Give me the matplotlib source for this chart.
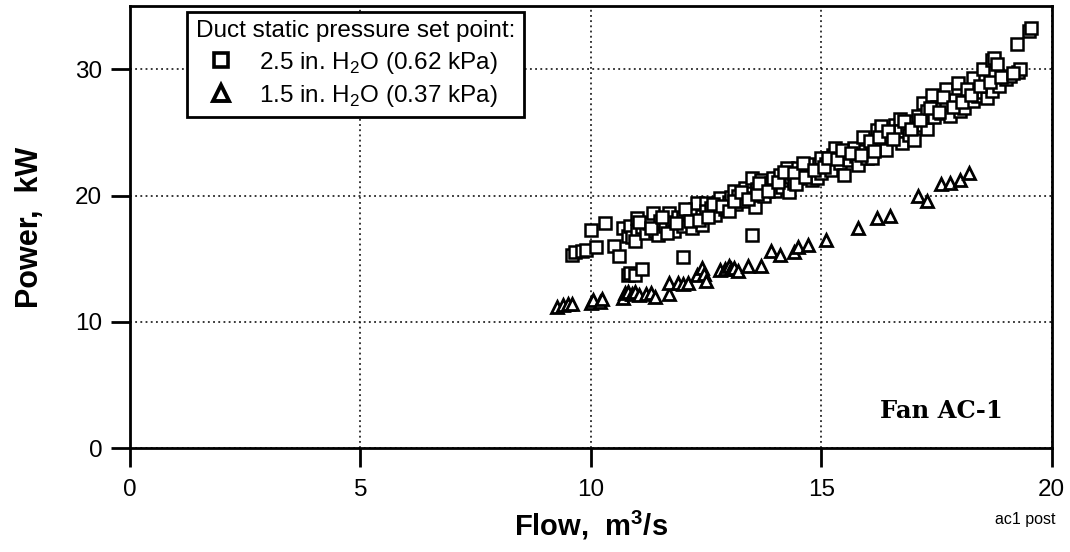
import matplotlib
matplotlib.use("Agg")
import matplotlib.pyplot as plt
from matplotlib.lines import Line2D

plt.rcParams['font.family'] = ['Liberation Sans', 'DejaVu Sans']
plt.rcParams['mathtext.fontset'] = 'custom'
plt.rcParams['mathtext.rm'] = 'Liberation Sans'
plt.rcParams['mathtext.bf'] = 'Liberation Sans:bold'

# 2.5 in. H2O set point (squares)
sq_flow = [9.6, 9.65, 9.8, 9.9, 10.1, 10.0, 10.3, 10.5, 10.6, 10.8, 10.85, 10.95, 11.1, 12.0, 13.5,
           10.7, 10.8, 10.85, 10.9, 11.0, 11.0, 10.95,
           11.1, 11.2, 11.25, 11.35, 11.4, 11.5, 11.5, 11.45,
           11.6, 11.7, 11.75, 11.8, 11.9, 12.0, 12.0,
           12.1, 12.2, 12.25, 12.3, 12.4, 12.4, 12.5, 12.5,
           12.6, 12.7, 12.75, 12.8, 12.9, 12.95, 13.0,
           13.05, 13.1, 13.15, 13.2, 13.3, 13.35, 13.4, 13.5, 13.5,
           13.55, 13.6, 13.7, 13.75, 13.8, 13.9, 13.95, 14.0,
           14.1, 14.15, 14.25, 14.3, 14.35, 14.4, 14.5, 14.5,
           14.6, 14.7, 14.75, 14.8, 14.9, 14.95, 15.0, 15.0,
           15.1, 15.2, 15.25, 15.3, 15.4, 15.5, 15.5,
           15.6, 15.7, 15.75, 15.8, 15.9, 15.95, 16.0,
           16.1, 16.1, 16.2, 16.3, 16.3, 16.4, 16.5,
           16.6, 16.7, 16.7, 16.75, 16.85, 16.9, 17.0, 17.0,
           17.1, 17.2, 17.2, 17.3, 17.3, 17.4, 17.45, 17.5,
           17.6, 17.7, 17.7, 17.8, 17.9, 17.96, 18.0,
           18.1, 18.2, 18.3, 18.3, 18.4, 18.5, 18.5,
           18.6, 18.7, 18.7, 18.75, 18.8, 18.85, 19.0,
           19.1, 19.24, 19.26, 19.3, 19.5, 19.55,
           11.05, 11.3, 11.55, 11.65, 11.85, 12.05, 12.15, 12.35, 12.55, 12.65,
           12.85, 13.0, 13.1, 13.25, 13.4, 13.6, 13.65, 13.85, 14.05, 14.2,
           14.4, 14.45, 14.6, 14.65, 14.85, 15.05, 15.15, 15.35, 15.45, 15.65,
           15.85, 16.05, 16.15, 16.25, 16.45, 16.55, 16.8, 16.95, 17.15, 17.35,
           17.55, 17.65, 17.85, 18.05, 18.15, 18.25, 18.45, 18.65, 18.9, 19.15]
sq_power = [15.3, 15.5, 15.6, 15.7, 15.9, 17.3, 17.8, 16.0, 15.2, 13.7, 13.9, 13.7, 14.2, 15.1, 16.9,
            17.4, 16.8, 17.6, 16.7, 18.2, 17.2, 16.4,
            17.5, 17.0, 17.8, 18.6, 17.2, 17.3, 18.0, 16.9,
            17.6, 18.6, 17.9, 17.2, 18.3, 18.2, 17.6,
            18.6, 17.4, 18.9, 19.4, 17.7, 18.4, 19.4, 18.8,
            19.0, 18.5, 19.4, 19.8, 18.9, 19.0, 19.5,
            19.9, 20.4, 19.3, 20.0, 19.6, 20.6, 20.2, 21.4, 19.8,
            19.1, 20.5, 21.2, 20.0, 20.8, 21.0, 21.4, 20.4,
            21.6, 20.7, 22.2, 20.3, 21.5, 21.0, 22.2, 21.4,
            21.8, 22.2, 22.5, 21.2, 21.4, 22.4, 23.0, 21.8,
            22.5, 22.0, 23.2, 23.8, 22.6, 21.6, 23.4,
            22.8, 23.8, 23.1, 22.4, 24.6, 23.5, 23.0,
            23.0, 24.0, 25.2, 25.5, 24.2, 23.6, 24.8,
            25.6, 26.1, 25.1, 24.2, 25.4, 24.8, 24.4, 25.8,
            26.3, 27.3, 25.6, 26.7, 25.3, 28.0, 26.2, 27.0,
            26.5, 28.4, 27.2, 26.3, 27.6, 28.9, 26.7,
            26.9, 27.8, 27.5, 29.3, 27.9, 30.0, 28.2,
            27.7, 28.3, 30.7, 30.9, 30.4, 28.7, 29.2,
            29.5, 32.0, 29.8, 30.0, 33.0, 33.3,
            17.9, 17.4, 18.3, 17.0, 17.8, 18.9, 18.0, 18.1, 18.3, 19.3,
            19.2, 18.8, 19.6, 20.3, 19.7, 20.1, 21.0, 20.4, 21.1, 21.9,
            21.8, 20.9, 22.6, 21.5, 22.0, 22.3, 23.0, 22.9, 23.6, 23.4,
            23.2, 24.3, 23.5, 24.6, 25.1, 24.5, 25.9, 25.3, 26.0, 26.9,
            26.6, 27.8, 27.0, 27.4, 28.4, 28.0, 28.7, 29.0, 29.4, 29.7]

# 1.5 in. H2O set point (triangles)
tri_flow = [9.26, 9.4, 9.5, 9.6, 10.0, 10.05, 10.2, 10.25, 10.7, 10.75, 10.8, 10.9, 10.95,
            11.05, 11.2, 11.3, 11.4, 11.7, 11.7, 11.9, 12.0, 12.1, 12.3, 12.4, 12.45, 12.5,
            12.8, 12.9, 13.0, 13.05, 13.1, 13.2, 13.4, 13.7, 13.9, 14.1, 14.4, 14.5, 14.7,
            15.1, 15.8, 16.2, 16.5, 17.1, 17.3, 17.6, 17.8, 18.0, 18.2]
tri_power = [11.2, 11.3, 11.4, 11.4, 11.5, 11.7, 11.6, 11.8, 11.9, 12.3, 12.4, 12.2, 12.4,
             12.1, 12.2, 12.3, 12.0, 12.2, 13.1, 13.1, 13.0, 13.1, 13.7, 14.3, 13.8, 13.2,
             14.1, 14.2, 14.4, 14.2, 14.3, 14.0, 14.4, 14.4, 15.6, 15.3, 15.5, 15.9, 16.1,
             16.5, 17.4, 18.2, 18.4, 20.0, 19.6, 20.9, 21.0, 21.2, 21.8]

fig = plt.figure(figsize=(10.7, 5.52), dpi=100)
ax = fig.add_axes([0.1215, 0.188, 0.8615, 0.801])

ax.plot(sq_flow, sq_power, linestyle='none', marker='s', markersize=8,
        markerfacecolor='white', markeredgecolor='black', markeredgewidth=1.8)
ax.plot(tri_flow, tri_power, linestyle='none', marker='^', markersize=9,
        markerfacecolor='white', markeredgecolor='black', markeredgewidth=2.0)

ax.set_xlim(0, 20)
ax.set_ylim(0, 35)
ax.set_xticks([0, 5, 10, 15, 20])
ax.set_yticks([0, 10, 20, 30])
ax.grid(True, color='black', linestyle=(0, (1.2, 2.2)), linewidth=1.1)
ax.set_axisbelow(True)

for s in ax.spines.values():
    s.set_linewidth(2.0)
ax.tick_params(direction='out', length=14, width=2, labelsize=17.5, pad=6)
ax.tick_params(axis='x', pad=8)

ax.set_xlabel('Flow,  m$^\\mathregular{3}$/s', fontsize=21, fontweight='bold', labelpad=6)
ax.set_ylabel('Power,  kW', fontsize=22, fontweight='bold', labelpad=22)

handles = [Line2D([], [], linestyle='none', marker='s', markersize=10,
                  markerfacecolor='white', markeredgecolor='black', markeredgewidth=2.6),
           Line2D([], [], linestyle='none', marker='^', markersize=11,
                  markerfacecolor='white', markeredgecolor='black', markeredgewidth=2.8)]
labels = ['2.5 in. H$_\\mathregular{2}$O (0.62 kPa)', '1.5 in. H$_\\mathregular{2}$O (0.37 kPa)']
leg = ax.legend(handles, labels, title='Duct static pressure set point:',
                loc='upper left', bbox_to_anchor=(0.062, 0.987), fontsize=17.5,
                title_fontsize=17.5, fancybox=False, framealpha=1, edgecolor='black',
                borderpad=0.35, labelspacing=0.3, handlelength=2.1, handletextpad=0.5,
                borderaxespad=0)
leg.get_frame().set_linewidth(2)
leg._legend_box.align = 'left'

ax.text(0.947, 0.085, 'Fan AC-1', transform=ax.transAxes, fontsize=17.5, fontweight='bold',
        family='DejaVu Serif', ha='right', va='center')
fig.text(0.958, 0.058, 'ac1 post', fontsize=11.5, ha='center', va='center')

fig.savefig('out.png', dpi=100)
